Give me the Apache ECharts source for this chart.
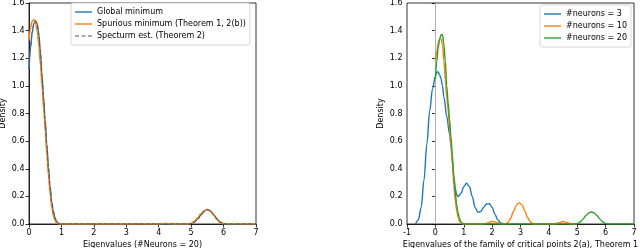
<!DOCTYPE html>
<html><head><meta charset="utf-8">
<script src="https://cdn.jsdelivr.net/npm/echarts@6/dist/echarts.min.js"></script>
<style>html,body{margin:0;padding:0;background:#fff}#c{width:640px;height:248px}</style>
</head><body><div id="c"></div>
<script>
// ---- Left panel (#Neurons = 20) ----
const globalX = [0,0.05,0.1,0.15,0.2,0.25,0.3,0.35,0.4,0.45,0.5,0.55,0.6,0.65,0.7,0.75,0.8,0.85,0.9,0.95,1.0,1.1,3.2,3.35,3.45,3.6,4.9,5.0,5.1,5.2,5.3,5.4,5.5,5.6,5.7,5.8,5.9,6.0,6.1,7.0];
const globalY = [1.12,1.28,1.39,1.45,1.47,1.45,1.38,1.25,1.08,0.91,0.74,0.57,0.41,0.27,0.16,0.09,0.045,0.018,0.006,0.002,0,0,0,0.003,0.003,0,0,0.003,0.014,0.035,0.065,0.092,0.106,0.095,0.068,0.036,0.013,0.003,0,0];
const spuriousX = [0,0.05,0.1,0.15,0.2,0.25,0.3,0.35,0.4,0.45,0.5,0.55,0.6,0.65,0.7,0.75,0.8,0.85,0.9,0.95,1.0,4.0,4.15,4.3,4.45,4.9,5.0,5.1,5.2,5.3,5.4,5.5,5.6,5.7,5.8,5.9,6.0,7.0];
const spuriousY = [1.33,1.42,1.47,1.48,1.46,1.40,1.30,1.16,1.00,0.84,0.67,0.50,0.35,0.22,0.12,0.06,0.025,0.008,0.002,0,0,0,0.004,0.004,0,0,0.005,0.02,0.045,0.075,0.097,0.102,0.09,0.062,0.03,0.01,0.002,0];
const estX = [0,0.05,0.1,0.15,0.2,0.25,0.3,0.35,0.4,0.45,0.5,0.55,0.6,0.65,0.7,0.75,0.8,0.85,0.9,0.95,1.0,1.1,4.9,5.0,5.1,5.2,5.3,5.4,5.5,5.6,5.7,5.8,5.9,6.0,6.1,7.0];
const estY = [1.12,1.28,1.39,1.45,1.47,1.45,1.38,1.25,1.08,0.91,0.74,0.57,0.41,0.27,0.16,0.09,0.045,0.018,0.006,0.002,0,0,0,0.003,0.014,0.035,0.065,0.092,0.106,0.095,0.068,0.036,0.013,0.003,0,0];

// ---- Right panel (family of critical points) ----
const n3X = [-0.7,-0.6,-0.5,-0.4,-0.3,-0.2,-0.1,0.0,0.05,0.1,0.15,0.2,0.25,0.3,0.4,0.5,0.55,0.6,0.65,0.7,0.75,0.8,0.9,1.0,1.1,1.2,1.3,1.4,1.5,1.6,1.7,1.8,1.9,2.0,2.1,2.2,2.3,2.4];
const n3Y = [0,0.03,0.12,0.32,0.58,0.82,0.98,1.07,1.10,1.10,1.08,1.05,1.0,0.92,0.78,0.65,0.57,0.45,0.34,0.26,0.21,0.20,0.22,0.27,0.295,0.27,0.20,0.12,0.085,0.09,0.12,0.145,0.147,0.12,0.07,0.03,0.008,0];
const n10X = [0,0.05,0.1,0.15,0.2,0.25,0.3,0.35,0.4,0.45,0.5,0.55,0.6,0.65,0.7,0.75,0.8,0.85,0.9,0.95,1.0,1.7,1.85,2.0,2.15,2.3,2.45,2.55,2.65,2.75,2.85,2.95,3.05,3.15,3.25,3.35,3.45,4.2,4.35,4.5,4.65,4.8,5.0];
const n10Y = [1.18,1.25,1.31,1.34,1.34,1.30,1.18,1.04,0.92,0.82,0.70,0.57,0.43,0.28,0.17,0.10,0.05,0.02,0.007,0.002,0,0,0.008,0.018,0.012,0.003,0,0.01,0.04,0.09,0.135,0.155,0.14,0.095,0.045,0.015,0,0,0.01,0.018,0.01,0,0];
const n20X = [0,0.05,0.1,0.15,0.2,0.25,0.3,0.35,0.4,0.45,0.5,0.55,0.6,0.65,0.7,0.75,0.8,0.85,0.9,0.95,1.0,4.9,5.0,5.1,5.2,5.3,5.4,5.5,5.6,5.7,5.8,5.9,6.0,6.1,7.0];
const n20Y = [1.05,1.18,1.28,1.34,1.37,1.37,1.30,1.18,1.00,0.88,0.76,0.63,0.49,0.35,0.23,0.14,0.08,0.04,0.015,0.005,0,0,0.003,0.015,0.035,0.06,0.08,0.087,0.08,0.06,0.035,0.015,0.003,0,0];

const yTicks = ['0.0','0.2','0.4','0.6','0.8','1.0','1.2','1.4','1.6'];
const leftLabels = ['Global minimum','Spurious minimum (Theorem 1, 2(b))','Specturm est. (Theorem 2)'];
const rightLabels = ['#neurons = 3','#neurons = 10','#neurons = 20'];
const xNameLeft = 'Eigenvalues (#Neurons = 20)';
const xNameRight = 'Eigenvalues of the family of critical points 2(a), Theorem 1';

const zip = (xs, ys) => xs.map((x, i) => [x, ys[i]]);
const FONT = 'DejaVu Sans';
const txt = {fontFamily: FONT, fontSize: 8, color: '#000'};

function xAx(idx, min, name) {
  return {gridIndex: idx, type: 'value', min: min, max: 7, interval: 1,
    name: name, nameLocation: 'middle', nameGap: 15.5, nameTextStyle: {fontFamily: FONT, fontSize: 8, color: '#000'},
    axisLine: {show: true, onZero: false, lineStyle: {color: '#000', width: 0.8}},
    axisTick: {show: true, length: 3.5, lineStyle: {color: '#000', width: 0.8}},
    axisLabel: Object.assign({margin: 4.5}, txt),
    splitLine: {show: false}};
}
function yAx(idx) {
  return {gridIndex: idx, type: 'value', min: 0, max: 1.6, interval: 0.2,
    name: 'Density', nameLocation: 'middle', nameGap: 22, nameTextStyle: {fontFamily: FONT, fontSize: 8, color: '#000'},
    axisLine: {show: true, lineStyle: {color: '#000', width: 0.8}},
    axisTick: {show: true, length: 3.5, lineStyle: {color: '#000', width: 0.8}},
    axisLabel: Object.assign({margin: 4.5, formatter: v => yTicks[Math.round(v / 0.2)]}, txt),
    splitLine: {show: false}};
}
function line(name, data, color, xi, extra) {
  return Object.assign({name: name, type: 'line', xAxisIndex: xi, yAxisIndex: xi, data: data,
    symbol: 'none', smooth: 0.35, smoothMonotone: 'x', clip: true,
    lineStyle: {color: color, width: 1.4}, itemStyle: {color: color}, z: 3}, extra || {});
}
const SOLID = 'path://M0,0H17V1.4H0Z';
const DASH = 'path://M0,0H4V1.2H0Z M6.5,0H10.5V1.2H6.5Z M13,0H17V1.2H13Z';
const legendBase = {orient: 'vertical', itemWidth: 17, itemHeight: 1.4, itemGap: 4,
  backgroundColor: '#fff', borderColor: '#cccccc', borderWidth: 0.8, borderRadius: 2, padding: [5, 4, 5, 4],
  textStyle: {fontFamily: FONT, fontSize: 8, color: '#000', lineHeight: 8}};

const chart = echarts.init(document.getElementById('c'), null, {renderer: 'canvas'});
chart.setOption({
  animation: false,
  grid: [
    {left: 29, top: 3, width: 227, height: 221, outerBoundsMode: 'none', containLabel: false, show: true, borderColor: '#000', borderWidth: 0.8, backgroundColor: 'transparent'},
    {left: 407, top: 3, width: 227, height: 221, outerBoundsMode: 'none', containLabel: false, show: true, borderColor: '#000', borderWidth: 0.8, backgroundColor: 'transparent'}
  ],
  xAxis: [xAx(0, 0, xNameLeft), xAx(1, -1, xNameRight)],
  yAxis: [yAx(0), yAx(1)],
  legend: [
    Object.assign({}, legendBase, {left: 71, top: 3, data: [
      {name: leftLabels[0], icon: SOLID}, {name: leftLabels[1], icon: SOLID}, {name: leftLabels[2], icon: DASH}]}),
    Object.assign({}, legendBase, {left: 540, top: 5, data: rightLabels.map(n => ({name: n, icon: SOLID}))})
  ],
  series: [
    line(leftLabels[0], zip(globalX, globalY), '#1f77b4', 0),
    line(leftLabels[1], zip(spuriousX, spuriousY), '#ff7f0e', 0),
    line(leftLabels[2], zip(estX, estY), '#555555', 0, {lineStyle: {color: '#555555', width: 1, type: [4, 2]}}),
    line(rightLabels[0], zip(n3X, n3Y), '#1f77b4', 1, {
      markLine: {silent: true, symbol: 'none', label: {show: false},
        lineStyle: {color: '#d0d0d0', width: 0.8, type: 'solid'}, data: [{xAxis: 0}], z: 1}}),
    line(rightLabels[1], zip(n10X, n10Y), '#ff7f0e', 1),
    line(rightLabels[2], zip(n20X, n20Y), '#2ca02c', 1)
  ]
});
</script></body></html>
